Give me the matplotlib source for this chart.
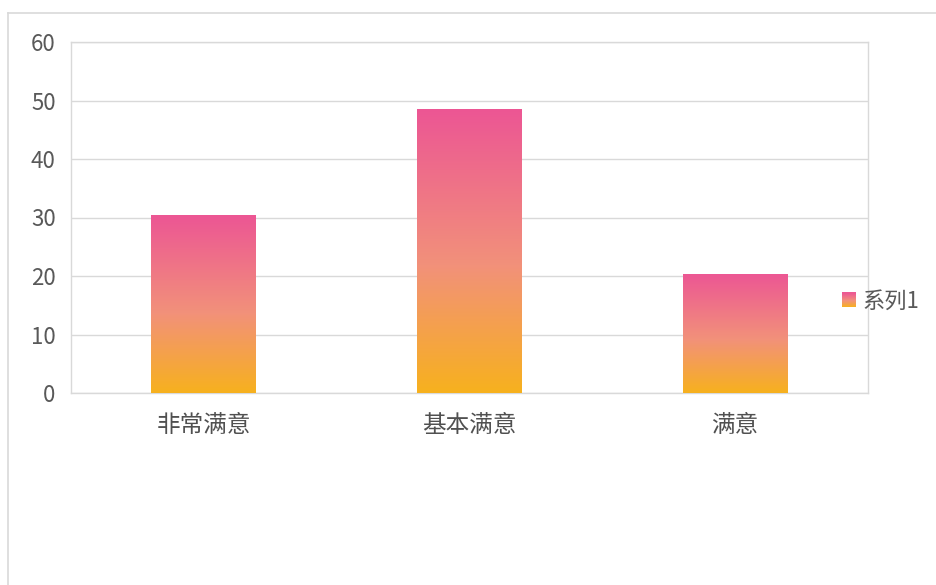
import numpy as np
import matplotlib
matplotlib.use("Agg")
import matplotlib.pyplot as plt
from matplotlib.patches import Rectangle
from matplotlib.lines import Line2D
from matplotlib.legend_handler import HandlerBase
from matplotlib.colors import LinearSegmentedColormap, to_rgb

plt.rcParams['font.family'] = ['Noto Sans CJK SC', 'DejaVu Sans']

categories = ["非常满意", "基本满意", "满意"]
values = [30.4, 48.5, 20.4]
series_name = "系列1"
yticks = [0, 10, 20, 30, 40, 50, 60]

top_color = "#EC5694"
mid_color = "#F2917A"
bottom_color = "#F7B11E"
cmap = LinearSegmentedColormap.from_list(
    "grad", [(0.0, bottom_color), (0.45, mid_color), (1.0, top_color)])

W, H = 936, 585
fig = plt.figure(figsize=(W / 100, H / 100), dpi=100)
ax = fig.add_axes([71 / W, 1 - 393 / H, (868 - 71) / W, (393 - 42) / H])

x = np.arange(len(categories))
bars = ax.bar(x, values, width=0.395, facecolor="none", edgecolor="none", zorder=3)
grad = np.linspace(0, 1, 256).reshape(-1, 1)
for b in bars:
    x0, y0 = b.get_x(), b.get_y()
    w, h = b.get_width(), b.get_height()
    im = ax.imshow(grad, cmap=cmap, origin="lower", aspect="auto",
                   extent=[x0, x0 + w, y0, y0 + h], zorder=3, interpolation="bilinear")
    im.set_clip_path(b)

ax.set_xlim(-0.5, len(categories) - 0.5)
ax.set_ylim(0, 60)
ax.set_yticks(yticks)
ax.set_xticks(x)
ax.set_xticklabels(categories)
ax.yaxis.grid(True, color="#D9D9D9", linewidth=1.0, zorder=0)
ax.set_axisbelow(True)
for s in ["left", "right", "top", "bottom"]:
    ax.spines[s].set_color("#D9D9D9")
    ax.spines[s].set_linewidth(1.0)
ax.tick_params(axis="both", length=0, labelsize=16, colors="#595959")
ax.tick_params(axis="y", pad=11)
ax.tick_params(axis="x", pad=15, labelsize=17, colors="#505050")


class GradientHandler(HandlerBase):
    def create_artists(self, legend, orig_handle, xdescent, ydescent,
                       width, height, fontsize, trans):
        n = 14
        side = 10
        x0 = xdescent + width - side
        y0 = -ydescent + (height - side) / 2
        arts = []
        for i in range(n):
            c = cmap((i + 0.5) / n)
            r = Rectangle((x0, y0 + side * i / n), side, side / n + 0.3,
                          facecolor=c, edgecolor="none", transform=trans)
            arts.append(r)
        return arts


handle = Rectangle((0, 0), 1, 1)
leg = fig.legend([handle], [series_name], handler_map={Rectangle: GradientHandler()},
                 loc="center left", bbox_to_anchor=(840 / W, 1 - 301 / H),
                 frameon=False, fontsize=16, handlelength=0.7, handletextpad=0.3,
                 borderpad=0, borderaxespad=0)
for t in leg.get_texts():
    t.set_color("#595959")

fig.add_artist(Line2D([8 / W, 1.0], [1 - 13 / H, 1 - 13 / H], transform=fig.transFigure,
                      color="#D9D9D9", linewidth=1.2))
fig.add_artist(Line2D([8 / W, 8 / W], [0, 1 - 13 / H], transform=fig.transFigure,
                      color="#D9D9D9", linewidth=1.2))

fig.savefig("out.png", dpi=100)
